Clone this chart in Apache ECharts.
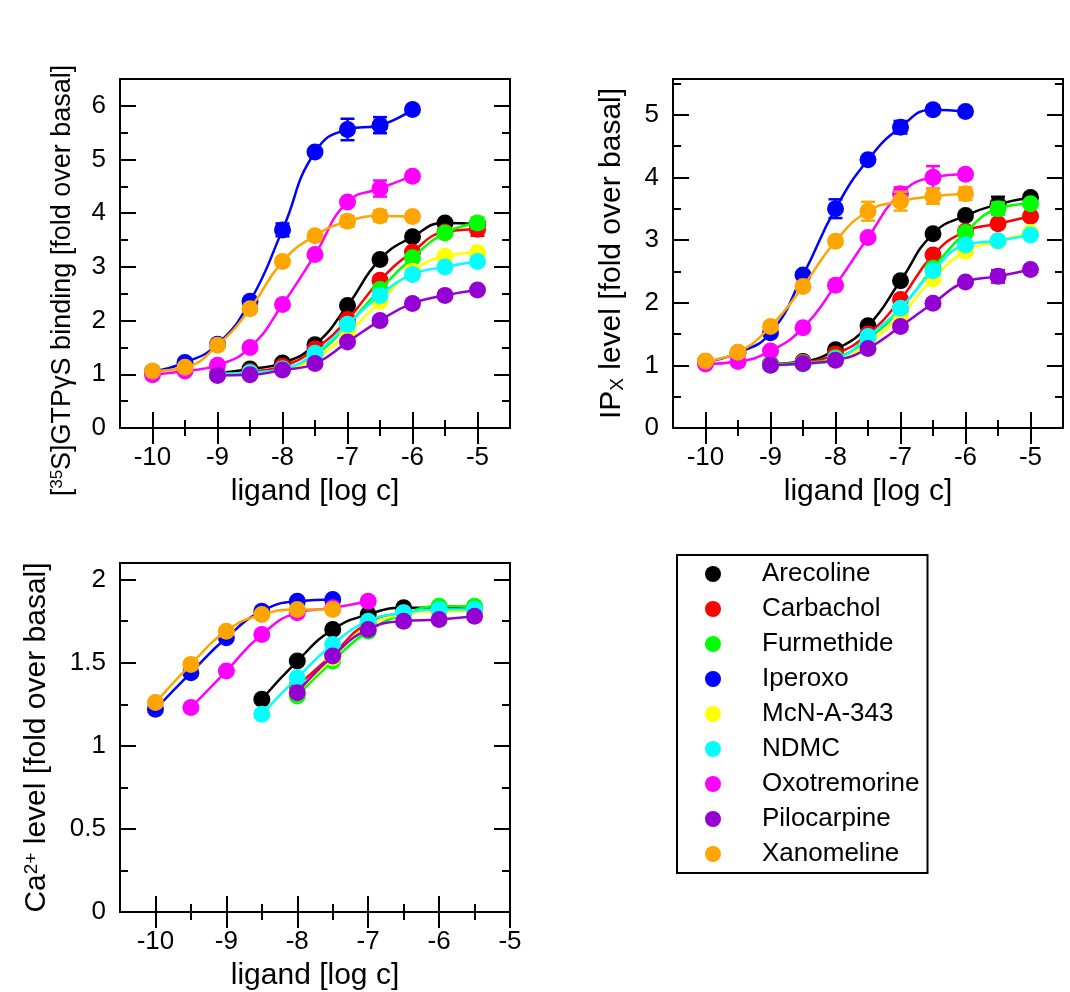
<!DOCTYPE html>
<html>
<head>
<meta charset="utf-8">
<script src="https://cdn.jsdelivr.net/npm/echarts@6/dist/echarts.min.js"></script>
<style>
  html, body { margin: 0; padding: 0; background: #fff; }
  #chart { width: 1070px; height: 992px; }
</style>
</head>
<body>
<div id="chart"></div>
<script>
// ---- data ----
const drugs = ['Arecoline', 'Carbachol', 'Furmethide', 'Iperoxo', 'McN-A-343', 'NDMC', 'Oxotremorine', 'Pilocarpine', 'Xanomeline']
const colors = ['#000000', '#ff0000', '#00ff00', '#0000ff', '#ffff00', '#00ffff', '#ff00ff', '#9400d3', '#ffa500']

const logC = [-10, -9.5, -9, -8.5, -8, -7.5, -7, -6.5, -6, -5.5, -5]
const logCCa = [-10, -9.5, -9, -8.5, -8, -7.5, -7, -6.5, -6, -5.5]

// [35S]GTPgS binding, one row per drug (order of drugs)
const gtpValues = [
  [null, null, 1.02, 1.10, 1.21, 1.55, 2.28, 3.14, 3.56, 3.82, 3.80],
  [null, null, 1.00, 1.05, 1.15, 1.47, 2.02, 2.75, 3.28, 3.65, 3.70],
  [null, null, 1.00, 1.03, 1.10, 1.36, 1.92, 2.58, 3.17, 3.63, 3.82],
  [1.05, 1.22, 1.56, 2.36, 3.69, 5.14, 5.56, 5.64, 5.93, null, null],
  [null, null, 1.00, 1.02, 1.08, 1.30, 1.76, 2.36, 2.92, 3.20, 3.27],
  [null, null, 1.00, 1.03, 1.10, 1.39, 1.93, 2.47, 2.86, 3.00, 3.10],
  [0.99, 1.06, 1.17, 1.50, 2.30, 3.23, 4.21, 4.46, 4.69, null, null],
  [null, null, 0.98, 0.99, 1.08, 1.20, 1.60, 2.00, 2.32, 2.47, 2.57],
  [1.06, 1.13, 1.54, 2.22, 3.10, 3.58, 3.85, 3.95, 3.94, null, null]
]
const gtpErr = [
  ['Iperoxo', -8, 0.12], ['Iperoxo', -7, 0.2], ['Iperoxo', -6.5, 0.15],
  ['Oxotremorine', -6.5, 0.15], ['Xanomeline', -7, 0.1], ['Xanomeline', -6.5, 0.1],
  ['Carbachol', -5, 0.12], ['Furmethide', -5, 0.1], ['Arecoline', -5.5, 0.07]
]

// IPx level
const ipValues = [
  [null, null, 1.02, 1.06, 1.25, 1.63, 2.35, 3.10, 3.39, 3.57, 3.68],
  [null, null, 1.02, 1.05, 1.18, 1.50, 2.05, 2.76, 3.14, 3.26, 3.38],
  [null, null, 1.02, 1.04, 1.12, 1.42, 1.90, 2.55, 3.12, 3.50, 3.58],
  [1.06, 1.20, 1.52, 2.44, 3.50, 4.28, 4.80, 5.08, 5.05, null, null],
  [null, null, 1.00, 1.03, 1.08, 1.35, 1.80, 2.38, 2.82, 2.98, 3.12],
  [null, null, 1.00, 1.02, 1.10, 1.46, 1.91, 2.51, 2.92, 2.99, 3.08],
  [1.02, 1.06, 1.23, 1.60, 2.28, 3.04, 3.74, 4.00, 4.05, null, null],
  [null, null, 1.00, 1.03, 1.08, 1.27, 1.62, 1.99, 2.33, 2.42, 2.53],
  [1.07, 1.21, 1.62, 2.26, 2.98, 3.46, 3.62, 3.70, 3.74, null, null]
]
const ipErr = [
  ['Iperoxo', -8, 0.15], ['Iperoxo', -7, 0.1], ['Iperoxo', -6.5, 0.06],
  ['Oxotremorine', -7, 0.1], ['Oxotremorine', -6.5, 0.18],
  ['Xanomeline', -7.5, 0.15], ['Xanomeline', -7, 0.15], ['Xanomeline', -6.5, 0.12], ['Xanomeline', -6, 0.1],
  ['Arecoline', -5.5, 0.12], ['Pilocarpine', -5.5, 0.1], ['Furmethide', -5.5, 0.1]
]

// Ca2+ level
const caValues = [
  [null, null, null, 1.28, 1.51, 1.70, 1.79, 1.83, 1.83, 1.82],
  [null, null, null, null, 1.36, 1.55, 1.74, 1.80, 1.82, 1.82],
  [null, null, null, null, 1.30, 1.51, 1.69, 1.79, 1.84, 1.84],
  [1.22, 1.44, 1.65, 1.81, 1.87, 1.88, null, null, null, null],
  [null, null, null, null, 1.32, 1.53, 1.72, 1.79, 1.81, 1.81],
  [null, null, null, 1.19, 1.41, 1.61, 1.75, 1.80, 1.82, 1.82],
  [null, 1.23, 1.45, 1.67, 1.80, 1.83, 1.87, null, null, null],
  [null, null, null, null, 1.32, 1.54, 1.70, 1.75, 1.76, 1.78],
  [1.26, 1.49, 1.69, 1.79, 1.82, 1.82, null, null, null, null]
]
const caErr = []

// tick values
const xTicks = [-10, -9, -8, -7, -6, -5]
const xMinor = [-9.5, -8.5, -7.5, -6.5, -5.5]
const gtpTicks = [0, 1, 2, 3, 4, 5, 6]
const gtpMinor = [0.5, 1.5, 2.5, 3.5, 4.5, 5.5]
const ipTicks = [0, 1, 2, 3, 4, 5]
const ipMinor = [0.5, 1.5, 2.5, 3.5, 4.5, 5.5]
const caTicks = [0, 0.5, 1, 1.5, 2]
const caMinor = [0.25, 0.75, 1.25, 1.75]

// ---- chart ----
const font = '"Liberation Sans", Arial, sans-serif'

function makeAxes (g, dim, range, major, minor, extra) {
  const sides = dim === 'x' ? ['bottom', 'top'] : ['left', 'right']
  const out = []
  sides.forEach(function (pos, s) {
    [major, minor].forEach(function (vals, m) {
      const ax = {
        type: 'value',
        gridIndex: g,
        position: pos,
        min: range[0],
        max: range[1],
        axisLine: { show: false },
        axisTick: {
          show: true,
          inside: true,
          length: m === 0 ? 16 : 8,
          customValues: vals,
          lineStyle: { color: '#000', width: 2 }
        },
        axisLabel: {
          show: s === 0 && m === 0,
          customValues: vals,
          fontSize: 26,
          fontFamily: font,
          color: '#000',
          margin: dim === 'x' ? 17 : 14
        },
        splitLine: { show: false }
      }
      if (s === 0 && m === 0) Object.assign(ax, extra)
      out.push(ax)
    })
  })
  return out
}

function nameStyle (size, pad) {
  return {
    fontSize: size,
    fontFamily: font,
    color: '#000',
    padding: pad || 0,
    rich: {
      sup: { fontSize: Math.round(size * 0.64), fontFamily: font, color: '#000', verticalAlign: 'top', padding: [0, 0, 8, 0] },
      sub: { fontSize: Math.round(size * 0.64), fontFamily: font, color: '#000', verticalAlign: 'bottom', padding: [10, 0, 0, 0] }
    }
  }
}
const xName = {
  name: 'ligand [log c]',
  nameLocation: 'middle',
  nameGap: 49,
  nameTextStyle: nameStyle(30)
}

const grids = [
  { left: 120, top: 79, width: 390, height: 349 },
  { left: 673, top: 79, width: 390, height: 349 },
  { left: 120, top: 563, width: 390, height: 350 }
]
grids.forEach(function (g) {
  g.show = true
  g.borderColor = '#000'
  g.borderWidth = 2
  g.backgroundColor = 'transparent'
})

const xAxes = [].concat(
  makeAxes(0, 'x', [-10.5, -4.5], xTicks, xMinor, xName),
  makeAxes(1, 'x', [-10.5, -4.5], xTicks, xMinor, xName),
  makeAxes(2, 'x', [-10.5, -5], xTicks, xMinor, xName)
)
const yAxes = [].concat(
  makeAxes(0, 'y', [0, 6.5], gtpTicks, gtpMinor, {
    name: '[{sup|35}S]GTPγS binding [fold over basal]',
    nameLocation: 'middle', nameGap: 44, nameTextStyle: nameStyle(27, [0, 54, 0, 0])
  }),
  makeAxes(1, 'y', [0, 5.57], ipTicks, ipMinor, {
    name: 'IP{sub|X} level [fold over basal]',
    nameLocation: 'middle', nameGap: 46, nameTextStyle: nameStyle(30)
  }),
  makeAxes(2, 'y', [0, 2.1], caTicks, caMinor, {
    name: 'Ca{sup|2+} level [fold over basal]',
    nameLocation: 'middle', nameGap: 68, nameTextStyle: nameStyle(30)
  })
)

const series = []
function addPanel (g, xs, values, errs) {
  drugs.forEach(function (name, i) {
    const pts = []
    values[i].forEach(function (v, k) {
      if (v !== null) pts.push([xs[k], v])
    })
    if (!pts.length) return
    const bars = []
    errs.forEach(function (e) {
      if (e[0] !== name) return
      const k = xs.indexOf(e[1])
      if (k >= 0 && values[i][k] !== null) bars.push([e[1], values[i][k], e[2]])
    })
    if (bars.length) {
      series.push({
        type: 'custom',
        name: name + ' sem',
        xAxisIndex: g * 4,
        yAxisIndex: g * 4,
        z: 2 + i,
        silent: true,
        data: bars,
        renderItem: function (params, api) {
          const x = api.value(0)
          const y = api.value(1)
          const d = api.value(2)
          const hi = api.coord([x, y + d])
          const lo = api.coord([x, y - d])
          const st = { stroke: colors[i], lineWidth: 2.5 }
          return {
            type: 'group',
            children: [
              { type: 'line', shape: { x1: hi[0], y1: hi[1], x2: lo[0], y2: lo[1] }, style: st },
              { type: 'line', shape: { x1: hi[0] - 7, y1: hi[1], x2: hi[0] + 7, y2: hi[1] }, style: st },
              { type: 'line', shape: { x1: lo[0] - 7, y1: lo[1], x2: lo[0] + 7, y2: lo[1] }, style: st }
            ]
          }
        }
      })
    }
    series.push({
      type: 'line',
      name: name,
      xAxisIndex: g * 4,
      yAxisIndex: g * 4,
      z: 2 + i,
      data: pts,
      smooth: 0.5,
      symbol: 'circle',
      symbolSize: 17,
      showAllSymbol: true,
      color: colors[i],
      lineStyle: { width: 2.5, color: colors[i] },
      itemStyle: { color: colors[i] },
      emphasis: { disabled: true }
    })
  })
}
addPanel(0, logC, gtpValues, gtpErr)
addPanel(1, logC, ipValues, ipErr)
addPanel(2, logCCa, caValues, caErr)

const option = {
  animation: false,
  backgroundColor: '#fff',
  textStyle: { fontFamily: font },
  grid: grids,
  xAxis: xAxes,
  yAxis: yAxes,
  legend: {
    data: drugs.map(function (d, i) {
      return { name: d, itemStyle: { color: colors[i] } }
    }),
    orient: 'vertical',
    left: 677,
    top: 555,
    padding: [6, 8, 6, 28],
    itemGap: 9,
    icon: 'circle',
    itemWidth: 16,
    itemHeight: 16,
    borderColor: '#000',
    borderWidth: 2,
    selectedMode: false,
    textStyle: { fontSize: 26, fontFamily: font, color: '#000', lineHeight: 26, padding: [0, 0, 0, 36] }
  },
  series: series
}

const chart = echarts.init(document.getElementById('chart'))
chart.setOption(option)
window.addEventListener('resize', () => {
  chart.resize()
})
</script>
</body>
</html>
